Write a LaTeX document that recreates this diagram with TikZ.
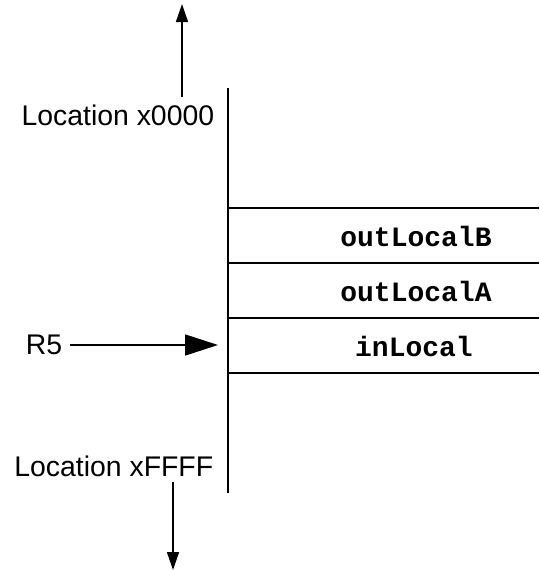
\documentclass[tikz,border=0pt]{standalone}
\usepackage{fontspec}
\setmainfont{Liberation Sans}
\setmonofont{Liberation Mono}
\usetikzlibrary{arrows.meta}
\tikzstyle{every node}=[inner sep=0pt, font=\fontsize{28.4}{32}\selectfont]
\tikzstyle{slot}=[font=\fontsize{28}{32}\selectfont\ttfamily\bfseries]
\tikzstyle{bigtip}=[-{Triangle[length=33pt, width=21pt]}]
\tikzstyle{smalltip}=[-{Triangle[length=18pt, width=12pt]}]

\begin{document}
\begin{tikzpicture}[x=1pt, y=-1pt, line width=1.6pt]
    \useasboundingbox (0,0) rectangle (539,570);
% Stack
    \draw (228,88) -- (228,493);
    \draw (228,208) -- (539,208);
    \draw (228,263) -- (539,263);
    \draw (228,318) -- (539,318);
    \draw (228,373) -- (539,373);
% Slots
    \node[slot] (outB) at (416,236) {outLocalB};
    \node[slot] (outA) at (416,291) {outLocalA};
    \node[slot] (inL) at (414,346) {inLocal};
% Labels
    \node[anchor=east] (loTop) at (215,115) {Location x0000};
    \node[anchor=east] (loBot) at (214,466) {Location xFFFF};
    \node[anchor=east] (rfive) at (63,345) {R5};
% Arrows
    \coordinate (upStart) at (182,97);
    \coordinate (upEnd) at (182,4);
    \coordinate (downStart) at (173,482);
    \coordinate (downEnd) at (173,570);
    \coordinate (frame) at (218,345);
    \draw[smalltip] (upStart) -- (upEnd);
    \draw[smalltip] (downStart) -- (downEnd);
    \draw[bigtip] ([xshift=7pt]rfive.east) -- (frame);
\end{tikzpicture}
\end{document}
